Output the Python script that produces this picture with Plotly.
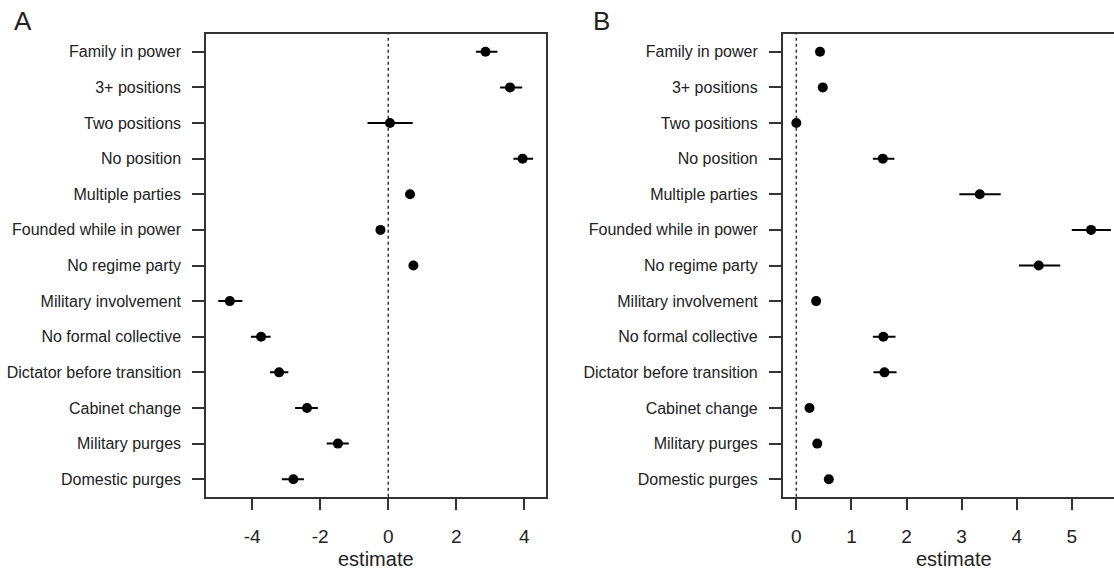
import plotly.graph_objects as go

categories = ["Family in power", "3+ positions", "Two positions", "No position",
              "Multiple parties", "Founded while in power", "No regime party",
              "Military involvement", "No formal collective",
              "Dictator before transition", "Cabinet change", "Military purges",
              "Domestic purges"]

a_est = [2.86, 3.58, 0.05, 3.95, 0.64, -0.23, 0.74, -4.66, -3.74, -3.21, -2.39, -1.48, -2.79]
a_lo = [2.58, 3.29, -0.61, 3.68, 0.58, -0.29, 0.68, -5.00, -4.04, -3.48, -2.74, -1.81, -3.13]
a_hi = [3.21, 3.94, 0.72, 4.26, 0.70, -0.17, 0.80, -4.29, -3.46, -2.94, -2.07, -1.16, -2.48]

b_est = [0.43, 0.48, 0.00, 1.57, 3.33, 5.35, 4.40, 0.36, 1.58, 1.60, 0.24, 0.38, 0.59]
b_lo = [0.39, 0.44, -0.04, 1.39, 2.96, 5.00, 4.04, 0.32, 1.39, 1.40, 0.20, 0.34, 0.55]
b_hi = [0.47, 0.52, 0.04, 1.78, 3.71, 5.71, 4.79, 0.40, 1.80, 1.82, 0.28, 0.42, 0.63]

a_ticks = [-4, -2, 0, 2, 4]
a_ticktext = ["-4", "-2", "0", "2", "4"]
b_ticks = [0, 1, 2, 3, 4, 5]
b_ticktext = ["0", "1", "2", "3", "4", "5"]

W, H = 1114, 571
FONT = "Liberation Sans, Arial, sans-serif"
INK = "#222222"
LINE = "#333333"

fig = go.Figure()

def add_panel(est, lo, hi, xa, ya):
    fig.add_trace(go.Scatter(
        x=est, y=categories, mode="markers",
        marker=dict(color="black", size=10, line=dict(width=0)),
        error_x=dict(type="data", symmetric=False,
                     array=[h - e for h, e in zip(hi, est)],
                     arrayminus=[e - l for e, l in zip(est, lo)],
                     color="black", thickness=2, width=0),
        xaxis=xa, yaxis=ya, showlegend=False, hoverinfo="x+y"))

add_panel(a_est, a_lo, a_hi, "x", "y")
add_panel(b_est, b_lo, b_hi, "x2", "y2")

ydom = [1 - 496.7 / H, 1 - 34.3 / H]
cat_order = list(reversed(categories))

common_y = dict(type="category", categoryorder="array", categoryarray=cat_order,
                range=[-0.49, 12.49], showline=True, linecolor=LINE, linewidth=1.5,
                ticks="outside", ticklen=12, tickwidth=1.5, tickcolor=LINE,
                tickfont=dict(family=FONT, size=16, color=INK),
                ticklabelstandoff=8, showgrid=False, zeroline=False, domain=ydom)
common_x = dict(showline=True, linecolor=LINE, linewidth=1.5,
                ticks="outside", ticklen=12, tickwidth=1.5, tickcolor=LINE,
                tickfont=dict(family=FONT, size=19, color=INK),
                ticklabelstandoff=10, showgrid=False, zeroline=False, mirror=True,
                tickmode="array")

fig.update_layout(
    width=W, height=H, margin=dict(l=0, r=0, t=0, b=0),
    paper_bgcolor="white", plot_bgcolor="white",
    xaxis=dict(common_x, domain=[206 / W, 545.7 / W], range=[-5.36, 4.63],
               tickvals=a_ticks, ticktext=a_ticktext, anchor="y"),
    yaxis=dict(common_y, anchor="x", mirror=True),
    xaxis2=dict(common_x, domain=[782.7 / W, 1.0], range=[-0.247, 5.766],
                tickvals=b_ticks, ticktext=b_ticktext, anchor="y2"),
    yaxis2=dict(common_y, anchor="x2", mirror=False),
)

for xr in ["x", "x2"]:
    fig.add_shape(type="line", xref=xr, yref="paper", x0=0, x1=0,
                  y0=ydom[0], y1=ydom[1],
                  line=dict(color=LINE, width=1.5, dash="dot"), layer="below")

ann_font = dict(family=FONT, size=26, color=INK)
fig.add_annotation(text="A", x=12 / W, y=1 - 21 / H, xref="paper", yref="paper",
                   xanchor="left", yanchor="middle", showarrow=False, font=ann_font)
fig.add_annotation(text="B", x=591 / W, y=1 - 21 / H, xref="paper", yref="paper",
                   xanchor="left", yanchor="middle", showarrow=False, font=ann_font)
tfont = dict(family=FONT, size=20, color=INK)
fig.add_annotation(text="estimate", x=375.9 / W, y=1 - 559 / H, xref="paper", yref="paper",
                   xanchor="center", yanchor="middle", showarrow=False, font=tfont)
fig.add_annotation(text="estimate", x=954 / W, y=1 - 559 / H, xref="paper", yref="paper",
                   xanchor="center", yanchor="middle", showarrow=False, font=tfont)

fig.write_html("out.html", config={"displayModeBar": False},
               post_script="document.body.style.margin='0';document.body.style.overflow='hidden';")
